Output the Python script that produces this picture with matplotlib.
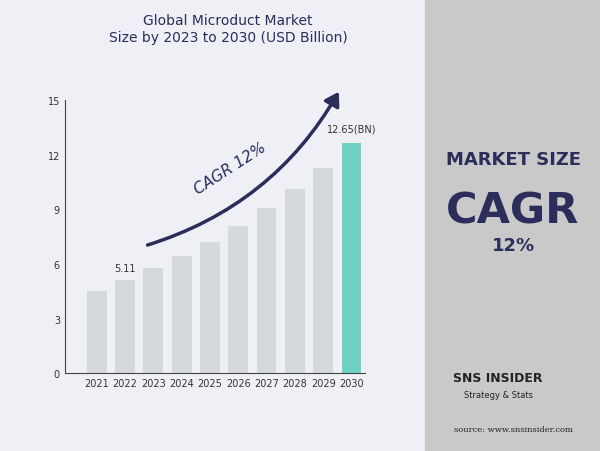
import numpy as np
import matplotlib.pyplot as plt
from matplotlib.patches import Rectangle, FancyArrowPatch

years = ["2021", "2022", "2023", "2024", "2025", "2026", "2027", "2028", "2029", "2030"]
values = [4.5, 5.11, 5.77, 6.43, 7.2, 8.08, 9.07, 10.1, 11.3, 12.65]
yticks = [0, 3, 6, 9, 12, 15]

fig = plt.figure(figsize=(6, 4.52), dpi=100)
fig.patch.set_facecolor("white")

# background panels
fig.add_artist(Rectangle((0.0, 0.0), 0.708, 1.0, transform=fig.transFigure,
                         color="#eef0f6", zorder=-2))
fig.add_artist(Rectangle((0.708, 0.0), 0.292, 1.0, transform=fig.transFigure,
                         color="#c9c9c9", zorder=-2))

ax = fig.add_axes([0.108, 0.172, 0.5, 0.604])
ax.set_facecolor("none")
x = np.arange(len(years))
colors = ["#d5d8dc"] * (len(years) - 1) + ["#6fd0c4"]
ax.bar(x, values, width=0.7, color=colors)
ax.set_ylim(0, 15)
ax.set_xlim(-1.13, 9.47)
ax.set_yticks(yticks)
ax.set_xticks(x, years)
ax.tick_params(labelsize=7, colors="#333333", length=0)
for s in ["top", "right"]:
    ax.spines[s].set_visible(False)
ax.spines["left"].set_color("#444444")
ax.spines["bottom"].set_color("#444444")

ax.text(1, values[1] + 0.4, "5.11", ha="center", va="bottom", fontsize=7, color="#333333")
ax.text(9, values[9] + 0.5, "12.65(BN)", ha="center", va="bottom", fontsize=7, color="#333333")

# CAGR arrow
arrow = FancyArrowPatch((1.7, 7.0), (8.6, 15.6), connectionstyle="arc3,rad=0.2",
                        arrowstyle="-|>,head_length=8,head_width=5",
                        color="#2b2d5a", lw=2.5, mutation_scale=1, clip_on=False)
ax.add_patch(arrow)
ax.text(4.7, 11.3, "CAGR 12%", rotation=33, fontsize=11, color="#2b2d5a",
        ha="center", va="center", style="italic")

fig.text(0.38, 0.935, "Global Microduct Market\nSize by 2023 to 2030 (USD Billion)",
         ha="center", va="center", fontsize=10, color="#2b2d5a", linespacing=1.3)

fig.text(0.855, 0.635, "MARKET SIZE", ha="center", fontsize=13, weight="bold", color="#2b2d5a")
fig.text(0.855, 0.505, "CAGR", ha="center", fontsize=31, weight="bold", color="#2b2d5a")
fig.text(0.855, 0.445, "12%", ha="center", fontsize=13, weight="bold", color="#2b2d5a")

fig.text(0.83, 0.155, "SNS INSIDER", ha="center", fontsize=9, weight="bold", color="#222222")
fig.text(0.83, 0.12, "Strategy & Stats", ha="center", fontsize=6, color="#222222")
fig.text(0.855, 0.045, "source: www.snsinsider.com", ha="center", fontsize=6,
         family="DejaVu Serif", color="#222222")

fig.savefig("out.png", dpi=100)
